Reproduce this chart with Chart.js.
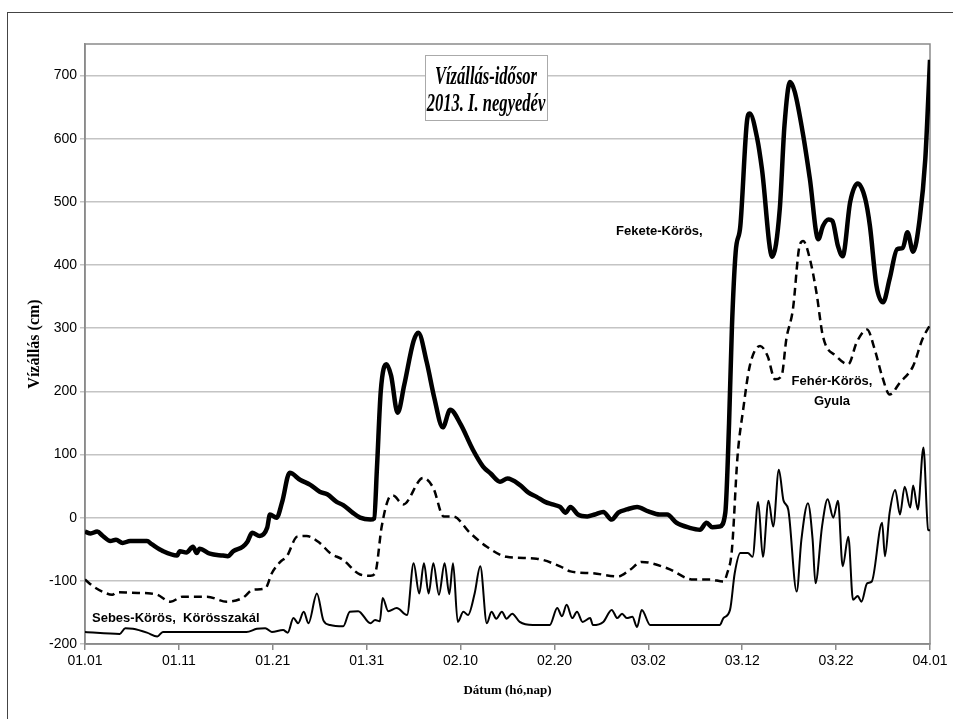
<!DOCTYPE html>
<html>
<head>
<meta charset="utf-8">
<script src="https://cdn.jsdelivr.net/npm/chart.js@4/dist/chart.umd.min.js"></script>
<style>
  html, body { margin: 0; padding: 0; background: #fff; overflow: hidden; }
  #wrap { position: relative; width: 953px; height: 719px; }
  #frame { position: absolute; left: 7px; top: 12px; width: 960px; height: 720px; border: 1.5px solid #444; }
  .lbl { position: absolute; font-family: "Liberation Sans", Arial, sans-serif; font-weight: bold; font-size: 13px; color: #000; white-space: nowrap; }
  #titlebox { position: absolute; left: 425px; top: 55px; width: 121px; height: 57px; padding-top: 7px; border: 1px solid #aaa; background: #fff;
    font-family: "Liberation Serif", "Times New Roman", serif; font-weight: bold; font-style: italic; font-size: 23px;
    text-align: center; line-height: 27px; white-space: nowrap; overflow: visible; }
  #titlebox div { width: 240px; margin-left: -60px; transform: scale(0.72, 1.05); transform-origin: center; }
</style>
</head>
<body>
<div id="wrap">
  <div id="frame"></div>
  <canvas id="chart01" width="953" height="719"></canvas>
  <div id="titlebox"><div>Vízállás-idősor</div><div>2013. I. negyedév</div></div>
  <div class="lbl" style="left:616px; top:223px;">Fekete-Körös,</div>
  <div class="lbl" style="left:790px; top:371px; width:84px; text-align:center; line-height:20px;">Fehér-Körös,<br>Gyula</div>
  <div class="lbl" style="left:92px; top:610px;">Sebes-Körös,&nbsp; Körösszakál</div>
</div>
<script>
// x = days since 01.01 (2013 Q1)
var dateLabels = ['01.01', '01.11', '01.21', '01.31', '02.10', '02.20', '03.02', '03.12', '03.22', '04.01'];

// Fekete-Körös
var feketeDays = [0, 0.6, 1.3, 1.9, 2.7, 3.3, 4, 4.8, 6.6, 7.1, 8.3, 9.8, 10.1, 10.8, 11.5, 11.9, 12.2, 13.3, 14.7, 15.2,
  15.8, 16.8, 17.3, 17.8, 18.6, 19.4, 19.7, 20.4, 21, 21.8, 22.9, 24, 25, 25.8, 26.8, 27.5, 28.5, 29.3, 30.4, 30.8,
  31.1, 31.5, 32.1, 32.6, 33.3, 34, 35, 35.5, 36.4, 37.2, 38.1, 38.9, 40, 41.3, 42.4, 43.2, 44.2, 45, 46.3, 47.2,
  48.1, 49, 49.8, 50.6, 51.2, 51.7, 52.5, 53.5, 54.3, 55.2, 56.1, 56.8, 57.7, 58.8, 60, 61.2, 62, 63, 64.4, 65.5,
  66.2, 66.8, 67.6, 68.2, 68.6, 68.9, 69.3, 69.8, 70.5, 70.8, 71.6, 72.1, 73.2, 74, 74.5, 75.1, 75.6, 76.5, 77.2, 78.1,
  78.6, 79.2, 79.6, 80.2, 80.7, 81.5, 82.3, 83.1, 83.6, 84.3, 85, 85.7, 86.5, 87.1, 87.6, 88.2, 88.9, 89.5, 90];
var feketeVals = [-22, -25, -22, -29, -37, -35, -40, -37, -37, -42, -53, -60, -53, -55, -46, -56, -49, -57, -60, -61,
  -53, -46, -38, -24, -29, -16, 5, 0, 25, 71, 60, 52, 41, 37, 25, 20, 8, 0, -3, -1,
  80, 200, 243, 225, 166, 210, 280, 293, 246, 190, 143, 171, 148, 108, 81, 70, 57, 62, 52, 40,
  33, 25, 21, 17, 8, 17, 5, 2, 5, 9, -3, 8, 13, 17, 10, 5, 5, -8, -16, -19,
  -8, -15, -14, 8, 150, 300, 420, 462, 627, 640, 600, 552, 413, 489, 621, 690, 674, 605, 537, 441,
  462, 472, 470, 430, 414, 500, 529, 505, 462, 367, 341, 378, 425, 427, 452, 421, 473, 568, 725];

// Fehér-Körös, Gyula
var feherDays = [0, 0.9, 2, 2.9, 3.4, 5, 7, 7.7, 9.1, 10.4, 13, 15.1, 16.8, 17.9, 19.2, 19.9, 20.8, 21.5, 22.6, 23.6,
  25, 26.1, 27.5, 29.3, 30.4, 30.9, 31.6, 32.3, 32.8, 33.9, 36, 37.1, 38.2, 39.2, 41, 42.8, 44.9, 48.1, 50.6, 51.7,
  54.1, 56.8, 58, 59.3, 62, 64.8, 66.6, 68, 68.4, 68.9, 69.5, 70.1, 70.8, 71.9, 72.7, 73.5, 74.2, 74.7, 75.4, 76.1,
  76.5, 77.2, 77.9, 78.6, 80, 81.3, 82.2, 83.3, 84.1, 84.9, 85.7, 86.8, 88.2, 89.2, 90];
var feherVals = [-98, -109, -118, -122, -118, -119, -120, -122, -133, -125, -125, -133, -127, -114, -112, -88, -70, -61, -30, -29,
  -40, -56, -67, -90, -92, -88, -14, 29, 35, 21, 63, 47, 2, 2, -24, -46, -62, -65, -77, -85,
  -88, -93, -83, -70, -80, -98, -98, -101, -88, -51, 97, 171, 240, 272, 256, 219, 225, 283, 330, 430,
  438, 410, 357, 287, 256, 243, 278, 298, 267, 224, 195, 214, 240, 283, 305];

// Sebes-Körös, Körösszakál
var sebesDays = [0, 3.7, 4.3, 5.1, 6.6, 7.7, 8.3, 12, 17.2, 18.3, 19.2, 19.9, 21.1, 21.6, 22.2, 22.7, 23.3, 23.8, 24.7, 25.4,
  26.1, 27.5, 28.2, 29.1, 30.4, 30.9, 31.4, 31.7, 32.3, 33.2, 34.3, 35, 35.6, 36.1, 36.6, 37.1, 37.7, 38.3, 38.8, 39.2,
  39.7, 40.3, 40.8, 41.5, 42.1, 42.8, 43.3, 43.8, 44.4, 44.9, 45.5, 46.3, 47.7, 49.5, 50.3, 50.8, 51.3, 51.9, 52.4, 53,
  53.8, 54.1, 55.2, 56.1, 56.7, 57.2, 57.7, 58.3, 58.8, 59.3, 60.2, 67.6, 68, 68.7, 69.2, 69.8, 70.6, 71.1, 71.7, 72.2,
  72.8, 73.3, 73.9, 74.4, 74.9, 75.8, 76.3, 77, 77.5, 77.8, 78.5, 79.1, 79.7, 80.2, 80.7, 81.3, 81.8, 82.3, 82.7, 83.3,
  83.8, 84.9, 85.2, 85.7, 86.3, 86.8, 87.3, 87.9, 88.2, 88.7, 89.3, 89.8, 90];
var sebesVals = [-181, -184, -175, -176, -182, -188, -181, -181, -181, -176, -175, -181, -178, -182, -159, -167, -149, -167, -120, -163,
  -170, -172, -149, -148, -167, -162, -164, -127, -148, -143, -154, -72, -120, -72, -120, -72, -122, -72, -121, -72,
  -165, -149, -154, -120, -77, -167, -149, -160, -149, -160, -152, -165, -170, -170, -143, -156, -138, -159, -149, -165,
  -159, -170, -165, -146, -159, -152, -159, -157, -173, -146, -170, -170, -159, -146, -88, -56, -56, -62, 25, -62,
  27, -14, 76, 27, 13, -117, -35, 23, -35, -104, -14, 29, 0, 27, -77, -30, -130, -124, -133, -104,
  -101, -8, -61, 8, 44, 5, 49, 16, 51, 13, 111, -19, -20];

function toPoints(days, vals) {
  var temp = [];
  for (var i = 0; i < days.length; i++) {
    temp.push({ x: days[i], y: vals[i] });
  }
  return temp;
}

var plotBorder = {
  id: 'plotBorder',
  beforeDatasetsDraw: function (chart) {
    var a = chart.chartArea;
    var c = chart.ctx;
    c.save();
    c.strokeStyle = '#8a8a8a';
    c.lineWidth = 1.5;
    c.strokeRect(a.left, a.top, a.right - a.left, a.bottom - a.top);
    c.restore();
  }
};

var tickFont = { family: "'Liberation Sans Narrow', 'Liberation Sans', Arial, sans-serif", size: 14 };
var serif = "'Liberation Serif', 'Times New Roman', serif";

var ctx = document.getElementById('chart01').getContext('2d');
var myChart = new Chart(ctx, {
  type: 'line',
  data: {
    datasets: [{
      label: 'Fekete-Körös',
      data: toPoints(feketeDays, feketeVals),
      borderColor: '#000',
      borderWidth: 4.5,
      pointRadius: 0,
      cubicInterpolationMode: 'monotone'
    }, {
      label: 'Fehér-Körös, Gyula',
      data: toPoints(feherDays, feherVals),
      borderColor: '#000',
      borderWidth: 2.5,
      borderDash: [8, 5],
      pointRadius: 0,
      cubicInterpolationMode: 'monotone'
    }, {
      label: 'Sebes-Körös, Körösszakál',
      data: toPoints(sebesDays, sebesVals),
      borderColor: '#000',
      borderWidth: 2,
      pointRadius: 0,
      cubicInterpolationMode: 'monotone'
    }]
  },
  options: {
    responsive: false,
    animation: false,
    layout: { padding: { top: 44, right: 23, bottom: 21, left: 25 } },
    plugins: { legend: { display: false }, tooltip: { enabled: false } },
    scales: {
      x: {
        type: 'linear',
        min: 0,
        max: 90,
        afterFit: function (s) { s.height = 54; },
        ticks: {
          stepSize: 10,
          color: '#000',
          font: tickFont,
          padding: 3,
          maxRotation: 0,
          callback: function (v) { return dateLabels[Math.round(v / 10)]; }
        },
        grid: { drawOnChartArea: false, tickLength: 6, color: '#8a8a8a', lineWidth: 1.5 },
        border: { color: '#8a8a8a', width: 1.5 },
        title: { display: true, text: 'Dátum (hó,nap)', color: '#000', font: { family: serif, size: 13, weight: 'bold' }, padding: 0 }
      },
      y: {
        min: -200,
        max: 750,
        afterFit: function (s) { s.width = 60; },
        ticks: { stepSize: 100, includeBounds: false, color: '#000', font: tickFont, padding: 3 },
        grid: { color: '#c4c4c4', lineWidth: 1.5, tickLength: 5 },
        border: { color: '#8a8a8a', width: 1.5 },
        title: { display: true, text: 'Vízállás (cm)', color: '#000', font: { family: serif, size: 16, weight: 'bold' }, padding: 0 }
      }
    }
  },
  plugins: [plotBorder]
});
</script>
</body>
</html>
